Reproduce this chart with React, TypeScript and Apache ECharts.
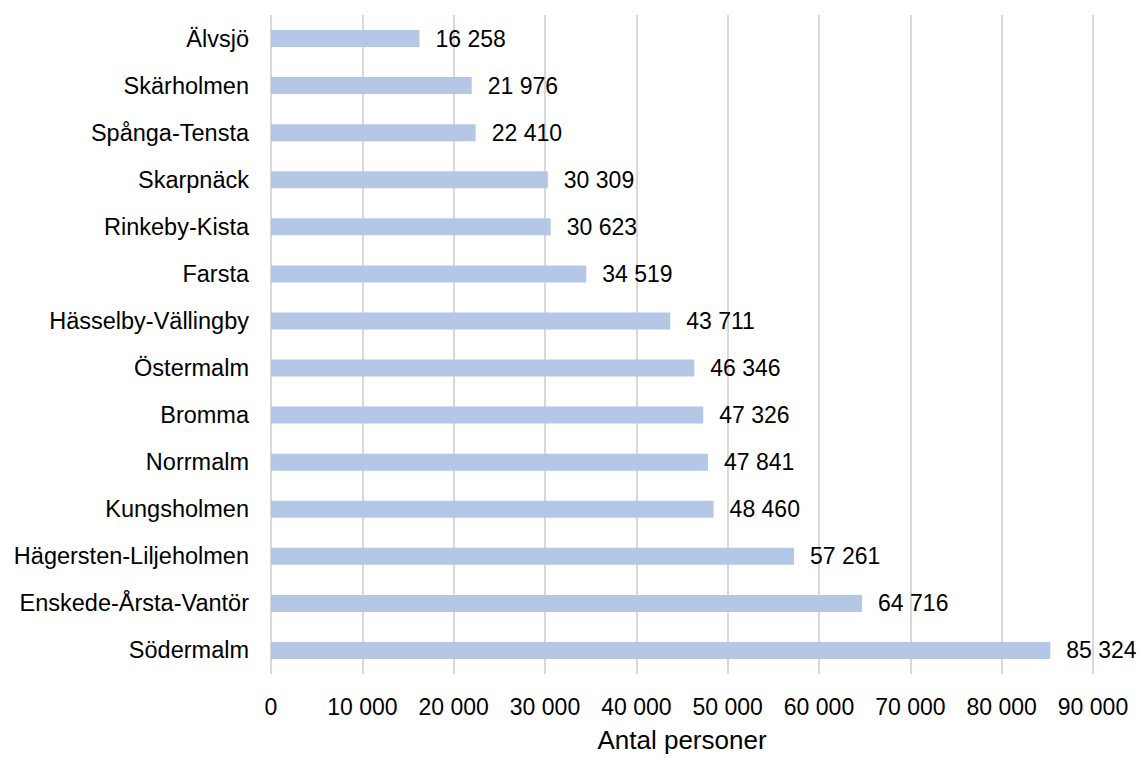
import React, { useEffect, useRef } from "react";
import * as echarts from "echarts";

const categories = [
  "Älvsjö",
  "Skärholmen",
  "Spånga-Tensta",
  "Skarpnäck",
  "Rinkeby-Kista",
  "Farsta",
  "Hässelby-Vällingby",
  "Östermalm",
  "Bromma",
  "Norrmalm",
  "Kungsholmen",
  "Hägersten-Liljeholmen",
  "Enskede-Årsta-Vantör",
  "Södermalm",
];

const values = [16258, 21976, 22410, 30309, 30623, 34519, 43711, 46346, 47326, 47841, 48460, 57261, 64716, 85324];

const axisName = "Antal personer";

const fmt = (v: number) => String(Math.round(v)).replace(/\B(?=(\d{3})+(?!\d))/g, " ");

export default function App() {
  const ref = useRef<HTMLDivElement>(null);
  useEffect(() => {
    if (!ref.current) return;
    const chart = echarts.init(ref.current, undefined, { renderer: "svg" });
    const font = "'Liberation Sans', Arial, sans-serif";
    chart.setOption({
      animation: false,
      backgroundColor: "#ffffff",
      textStyle: { fontFamily: font },
      grid: { left: 271, right: 50, top: 15, bottom: 76, containLabel: false },
      xAxis: {
        type: "value",
        min: 0,
        max: 90000,
        interval: 10000,
        name: axisName,
        nameLocation: "middle",
        nameGap: 53,
        nameTextStyle: { fontSize: 26, color: "#000", fontFamily: font },
        axisLine: { show: false },
        axisTick: { show: false },
        axisLabel: { fontSize: 23, color: "#000", margin: 21, formatter: (v: number) => fmt(v), fontFamily: font },
        splitLine: { show: true, lineStyle: { color: "#D9D9D9", width: 2 } },
      },
      yAxis: {
        type: "category",
        data: categories,
        inverse: true,
        axisLine: { show: false },
        axisTick: { show: false },
        axisLabel: { fontSize: 23.5, color: "#000", margin: 22, fontFamily: font },
        splitLine: { show: false },
      },
      series: [
        {
          type: "bar",
          data: values,
          barWidth: 17,
          itemStyle: { color: "#B4C7E7" },
          label: {
            show: true,
            position: "right",
            distance: 16,
            fontSize: 23,
            color: "#000",
            fontFamily: font,
            formatter: (p: any) => fmt(p.value),
          },
        },
      ],
    });
    return () => chart.dispose();
  }, []);
  return <div ref={ref} style={{ position: "fixed", left: 0, top: 0, width: 1143, height: 758 }} />;
}
